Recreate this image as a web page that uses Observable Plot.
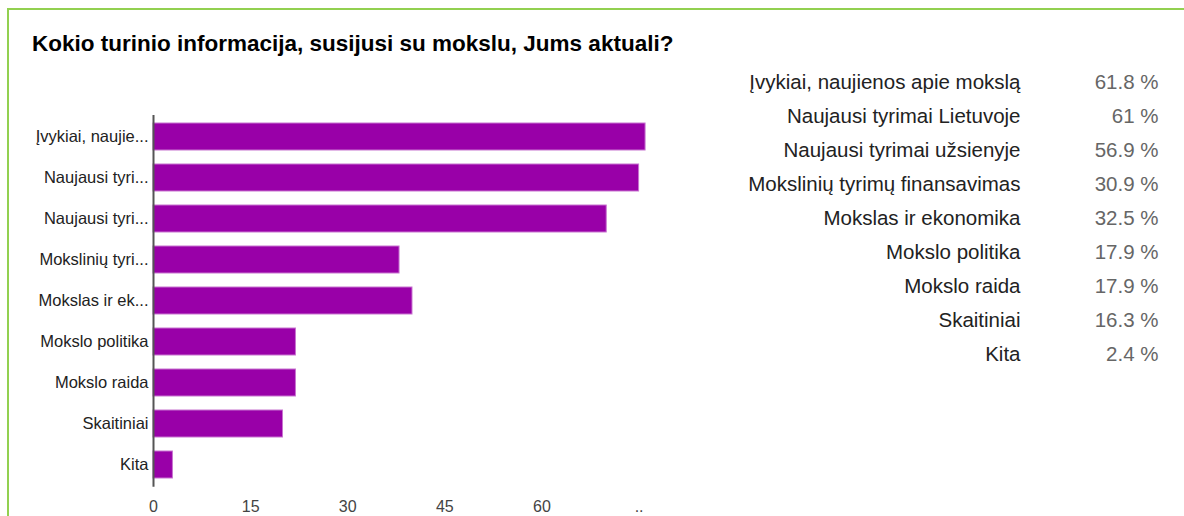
<!DOCTYPE html>
<html>
<head>
<meta charset="utf-8">
<script src="https://cdn.jsdelivr.net/npm/d3@7"></script>
<script src="https://cdn.jsdelivr.net/npm/@observablehq/plot@0.6"></script>
<style>
  html, body { margin: 0; padding: 0; background: #fff; }
  #wrap { position: relative; width: 1184px; height: 516px; overflow: hidden; font-family: Arial, "Liberation Sans", sans-serif; }
  #frame { position: absolute; left: 7px; top: 8px; width: 1300px; height: 600px; border-left: 2px solid #92d050; border-top: 2px solid #92d050; }
  #title { position: absolute; left: 32px; top: 31px; font-weight: bold; font-size: 22.5px; color: #000; white-space: nowrap; }
  #bars { position: absolute; left: 0; top: 0; }
  #table { position: absolute; left: 700px; top: 0; }
</style>
</head>
<body>
<div id="wrap">
  <div id="frame"></div>
  <div id="title"></div>
  <div id="bars"></div>
  <div id="table"></div>
</div>
<script>
const titleText = "Kokio turinio informacija, susijusi su mokslu, Jums aktuali?";
const categories = [
  "Įvykiai, naujienos apie mokslą",
  "Naujausi tyrimai Lietuvoje",
  "Naujausi tyrimai užsienyje",
  "Mokslinių tyrimų finansavimas",
  "Mokslas ir ekonomika",
  "Mokslo politika",
  "Mokslo raida",
  "Skaitiniai",
  "Kita"
];
const counts = [76, 75, 70, 38, 40, 22, 22, 20, 3];
const percents = ["61.8 %", "61 %", "56.9 %", "30.9 %", "32.5 %", "17.9 %", "17.9 %", "16.3 %", "2.4 %"];
const yTickLabels = [
  "Įvykiai, naujie...",
  "Naujausi tyri...",
  "Naujausi tyri...",
  "Mokslinių tyri...",
  "Mokslas ir ek...",
  "Mokslo politika",
  "Mokslo raida",
  "Skaitiniai",
  "Kita"
];
const xTicks = [0, 15, 30, 45, 60, 75];
const xTickLabels = ["0", "15", "30", "45", "60", ".."];

document.getElementById("title").textContent = titleText;

const rows = categories.map((c, i) => ({cat: c, count: counts[i], pct: percents[i]}));

const font = "Arial, 'Liberation Sans', sans-serif";

const bars = Plot.plot({
  width: 700,
  height: 516,
  marginLeft: 153,
  marginRight: 61.4,
  marginTop: 115,
  marginBottom: 29.3,
  style: {fontFamily: font, fontSize: "16px", background: "transparent", overflow: "visible"},
  x: {domain: [0, 75]},
  y: {domain: categories, paddingInner: 0.337, paddingOuter: 0.17},
  marks: [
    Plot.barX(rows, {x: "count", y: "cat", fill: "#9900a8", stroke: "#c874d0", strokeWidth: 1}),
    Plot.ruleX([0], {stroke: "#555", strokeWidth: 2}),
    Plot.axisY({tickSize: 0, tickPadding: 5, fill: "#222", fontSize: 16.5, label: null,
      tickFormat: d => yTickLabels[categories.indexOf(d)]}),
    Plot.axisX({ticks: xTicks, tickSize: 0, tickPadding: 13, fill: "#444", fontSize: 16, label: null,
      tickFormat: d => xTickLabels[xTicks.indexOf(d)]})
  ]
});
document.getElementById("bars").appendChild(bars);

const table = Plot.plot({
  width: 484,
  height: 516,
  margin: 0,
  style: {fontFamily: font, background: "transparent", overflow: "visible"},
  x: {type: "point", domain: ["label", "value"], range: [320, 458], padding: 0, axis: null},
  y: {type: "point", domain: categories, range: [80.5, 356], padding: 0, axis: null},
  marks: [
    Plot.text(rows, {x: () => "label", y: "cat", text: "cat", textAnchor: "end", fill: "#222", fontSize: 20.5}),
    Plot.text(rows, {x: () => "value", y: "cat", text: "pct", textAnchor: "end", fill: "#666", fontSize: 20.5})
  ]
});
document.getElementById("table").appendChild(table);
</script>
</body>
</html>
